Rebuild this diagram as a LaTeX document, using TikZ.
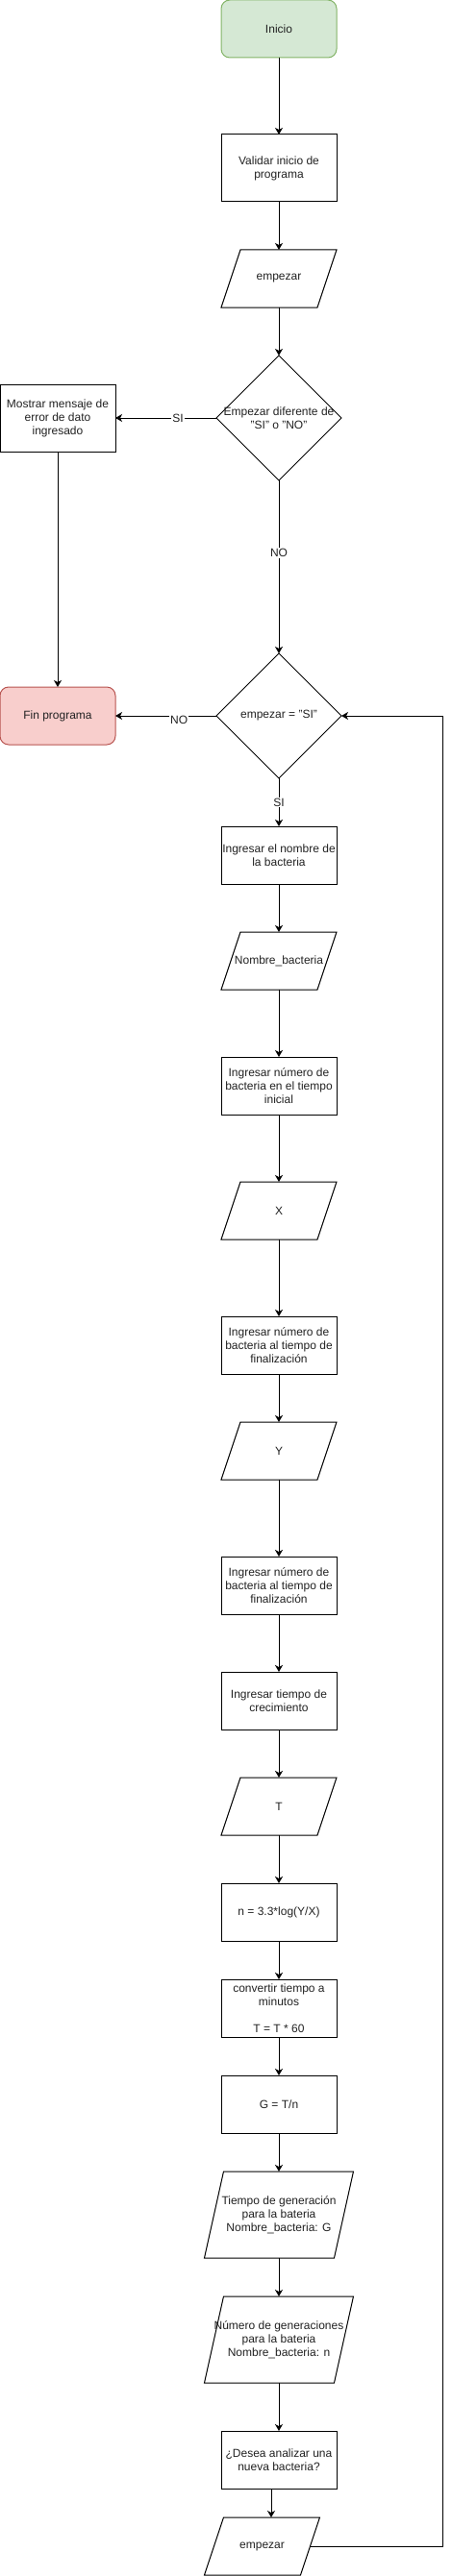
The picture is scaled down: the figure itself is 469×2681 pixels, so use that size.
\documentclass[tikz,border=0pt]{standalone}
\usepackage{fontspec}
\setmainfont{Liberation Sans}
\usetikzlibrary{shapes.geometric,arrows.meta}
\definecolor{txt}{HTML}{222222}
\definecolor{gfill}{HTML}{D5E8D4}
\definecolor{gdraw}{HTML}{82B366}
\definecolor{rfill}{HTML}{F8CECC}
\definecolor{rdraw}{HTML}{B85450}
\tikzset{
  base/.style={font=\fontsize{12}{14}\selectfont, text=txt, align=center, inner sep=0pt, outer sep=0pt},
  proc/.style={base, draw, line width=1pt, minimum width=120pt, minimum height=60pt},
  term/.style={proc, rounded corners=9pt},
  io/.style={base, minimum width=120pt, minimum height=60pt},
  iobig/.style={base, minimum width=155pt, minimum height=90pt},
  dec/.style={base, draw, line width=1pt, shape=diamond, aspect=1, minimum width=130pt, minimum height=130pt},
  arr/.style={line width=1pt, -{Stealth[length=7pt,width=8pt,inset=2pt]}},
  lbl/.style={base, fill=white, inner sep=1pt},
  para/.style={line width=1pt, line join=miter}
}
\begin{document}
\begin{tikzpicture}[x=1pt,y=-1pt]
\useasboundingbox (0,0) rectangle (469,2681);
\node[term, fill=gfill, draw=gdraw] (ini) at (290,30) {Inicio};
\node[proc, minimum height=70pt] (val) at (290,175) {Validar inicio de\\programa};
\node[io] (e1) at (290,290) {empezar};
\node[dec, label={[base,align=center]center:{Empezar diferente de\\"SI" o "NO"}}] (d1) at (290,435) {};
\node[proc, minimum height=70pt] (m) at (60,435) {Mostrar mensaje de\\error de dato\\ingresado};
\node[dec, label={[base]center:{empezar = "SI"}}] (d2) at (290,745) {};
\node[term, fill=rfill, draw=rdraw] (fin) at (60,745) {Fin programa};
\node[proc] (b1) at (290,890) {Ingresar el nombre de\\la bacteria};
\node[io] (nb) at (290,1000) {Nombre\_bacteria};
\node[proc] (b2) at (290,1130) {Ingresar número de\\bacteria en el tiempo\\inicial};
\node[io] (px) at (290,1260) {X};
\node[proc] (b3) at (290,1400) {Ingresar número de\\bacteria al tiempo de\\finalización};
\node[io] (py) at (290,1510) {Y};
\node[proc] (b4) at (290,1650) {Ingresar número de\\bacteria al tiempo de\\finalización};
\node[proc] (b5) at (290,1770) {Ingresar tiempo de\\crecimiento};
\node[io] (pt) at (290,1880) {T};
\node[proc] (bn) at (290,1990) {n = 3.3*log(Y/X)};
\node[proc] (bc) at (290,2090) {convertir tiempo a\\minutos\\[14pt]T = T * 60};
\node[proc] (bg) at (290,2190) {G = T/n};
\node[iobig] (pg) at (290,2305) {Tiempo de generación\\para la bateria\\Nombre\_bacteria: G};
\node[iobig] (pn) at (290,2435) {Número de generaciones\\para la bateria\\Nombre\_bacteria: n};
\node[proc] (bd) at (290,2560) {¿Desea analizar una\\nueva bacteria?};
\node[io] (e2) at (272.5,2650) {empezar};
% parallelograms
\foreach \n in {e1,nb,px,py,pt,pg,pn,e2}
  \draw[para] ([xshift=20pt]\n.north west) -- (\n.north east) -- ([xshift=-20pt]\n.south east) -- (\n.south west) -- cycle;
% connectors
\draw[arr] (ini) -- (val);
\draw[arr] (val) -- (e1);
\draw[arr] (e1) -- (d1);
\draw[arr] (d1.west) -- node[lbl, pos=0.38] (lsi1) {SI} (m.east);
\draw[arr] (m) -- (fin);
\draw[arr] (d1.south) -- node[lbl, pos=0.42] (lno1) {NO} (d2.north);
\draw[arr] (d2.west) -- node[lbl, pos=0.37, yshift=-4pt] (lno2) {NO} (fin.east);
\draw[arr] (d2.south) -- node[lbl, pos=0.5] (lsi2) {SI} (b1.north);
\draw[arr] (b1) -- (nb);
\draw[arr] (nb) -- (b2);
\draw[arr] (b2) -- (px);
\draw[arr] (px) -- (b3);
\draw[arr] (b3) -- (py);
\draw[arr] (py) -- (b4);
\draw[arr] (b4) -- (b5);
\draw[arr] (b5) -- (pt);
\draw[arr] (pt) -- (bn);
\draw[arr] (bn) -- (bc);
\draw[arr] (bc) -- (bg);
\draw[arr] (bg) -- (pg);
\draw[arr] (pg) -- (pn);
\draw[arr] (pn) -- (bd);
\coordinate (ds) at ([xshift=-8pt]bd.south);
\draw[arr] (ds) -- (ds |- e2.north);
\coordinate (lp) at (460,745);
\coordinate (es) at ([xshift=-10pt]e2.east);
\draw[arr] (es) -| (lp) -- (d2.east);
\end{tikzpicture}
\end{document}
